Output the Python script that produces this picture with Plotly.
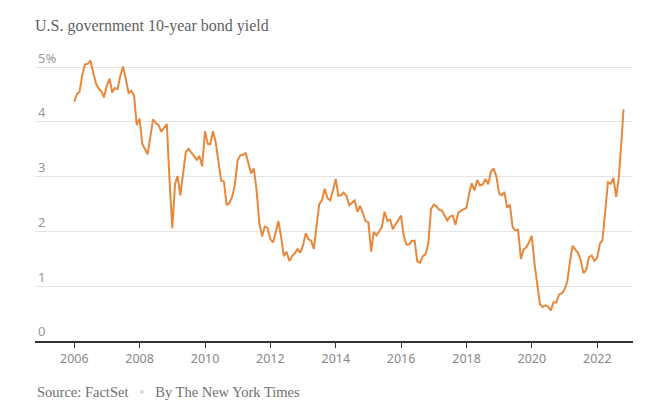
import pandas as pd
import plotly.graph_objects as go

# Month-end readings, Dec 2005 .. Sep 2022, then latest reading (Oct 2022)
dates = list(pd.date_range("2005-12-31", "2022-09-30", freq="ME").strftime("%Y-%m-%d")) + ["2022-10-21"]

y2006 = [4.37, 4.51, 4.55, 4.85, 5.05, 5.06, 5.12, 4.92, 4.70, 4.61, 4.56, 4.45, 4.67]  # Dec05..Dec06
y2007 = [4.79, 4.54, 4.62, 4.60, 4.85, 5.01, 4.78, 4.53, 4.57, 4.48, 3.94, 4.06]
y2008 = [3.60, 3.50, 3.41, 3.73, 4.05, 3.98, 3.94, 3.82, 3.90, 3.96, 2.95, 2.06]
y2009 = [2.87, 3.01, 2.66, 3.10, 3.45, 3.51, 3.44, 3.36, 3.31, 3.38, 3.19, 3.83]
y2010 = [3.60, 3.59, 3.83, 3.63, 3.30, 2.93, 2.91, 2.48, 2.52, 2.63, 2.85, 3.30]
y2011 = [3.39, 3.40, 3.43, 3.26, 3.06, 3.15, 2.75, 2.15, 1.91, 2.09, 2.07, 1.86]
y2012 = [1.80, 1.98, 2.19, 1.90, 1.55, 1.63, 1.46, 1.55, 1.60, 1.68, 1.61, 1.75]
y2013 = [1.97, 1.86, 1.83, 1.68, 2.12, 2.50, 2.57, 2.78, 2.61, 2.57, 2.75, 2.96]
y2014 = [2.65, 2.66, 2.71, 2.65, 2.48, 2.53, 2.57, 2.36, 2.47, 2.33, 2.19, 2.17]
y2015 = [1.63, 1.99, 1.93, 2.00, 2.08, 2.36, 2.19, 2.22, 2.04, 2.13, 2.20, 2.29]
y2016 = [1.91, 1.76, 1.76, 1.83, 1.83, 1.45, 1.43, 1.55, 1.58, 1.78, 2.41, 2.49]
y2017 = [2.46, 2.40, 2.38, 2.30, 2.20, 2.27, 2.29, 2.12, 2.34, 2.38, 2.41, 2.43]
y2018 = [2.70, 2.88, 2.75, 2.94, 2.84, 2.86, 2.96, 2.86, 3.09, 3.15, 3.01, 2.69]
y2019 = [2.66, 2.72, 2.43, 2.49, 2.08, 2.02, 2.03, 1.50, 1.67, 1.71, 1.80, 1.92]
y2020 = [1.41, 1.05, 0.67, 0.62, 0.65, 0.63, 0.56, 0.71, 0.70, 0.85, 0.87, 0.94]
y2021 = [1.09, 1.43, 1.74, 1.67, 1.61, 1.47, 1.24, 1.30, 1.53, 1.56, 1.46, 1.52]
y2022 = [1.78, 1.84, 2.37, 2.90, 2.87, 2.98, 2.63, 3.00, 3.70, 4.23]

yields = (y2006 + y2007 + y2008 + y2009 + y2010 + y2011 + y2012 + y2013 + y2014
          + y2015 + y2016 + y2017 + y2018 + y2019 + y2020 + y2021 + y2022)

ytick_vals = [0, 1, 2, 3, 4, 5]
ytick_text = ["0", "1", "2", "3", "4", "5%"]

title_text = "U.S. government 10-year bond yield"
footer_text = ("Source: FactSet&nbsp;&nbsp;&nbsp;<span style='color:#d3d3d3'>•</span>&nbsp;&nbsp;&nbsp;"
               "By The New York Times")

W, H = 650, 411
ML, MR, MT, MB = 27, 25, 40, 78
PH = H - MT - MB

fig = go.Figure()
fig.add_trace(go.Scatter(
    x=dates[:len(yields)], y=yields, mode="lines",
    line=dict(color="#e8883c", width=2), hoverinfo="skip", showlegend=False,
))

fig.update_layout(
    width=W, height=H,
    margin=dict(l=ML, r=MR, t=MT, b=MB),
    paper_bgcolor="white", plot_bgcolor="white",
    title=dict(text=title_text, x=ML/W, xanchor="left", y=1-17.5/H, yanchor="middle",
               font=dict(family="Liberation Serif", size=16, color="#5f5f5f")),
    annotations=[dict(text=footer_text, xref="paper", yref="paper", x=0, y=-(392-341)/PH,
                      xanchor="left", yanchor="middle", showarrow=False,
                      font=dict(family="Liberation Serif", size=14.5, color="#707070"))],
)

fig.update_xaxes(
    type="date", range=["2004-10-19", "2023-02-04"],
    tick0="2006-01-01", dtick="M24", tickformat="%Y",
    ticks="outside", ticklen=5, tickwidth=1, tickcolor="#333333",
    showline=True, linecolor="#333333", linewidth=1.5,
    showgrid=False, zeroline=False,
    tickfont=dict(family="Noto Sans", size=12.5, color="#888888"),
)

fig.update_yaxes(
    range=[0, 5.35], tickvals=ytick_vals, ticktext=ytick_text,
    ticklabelposition="inside top", ticks="",
    showgrid=True, gridcolor="#e3e3e3", gridwidth=1,
    zeroline=False, showline=False,
    tickfont=dict(family="Noto Sans", size=13, color="#999999"),
)

fig.write_html("out.html")
